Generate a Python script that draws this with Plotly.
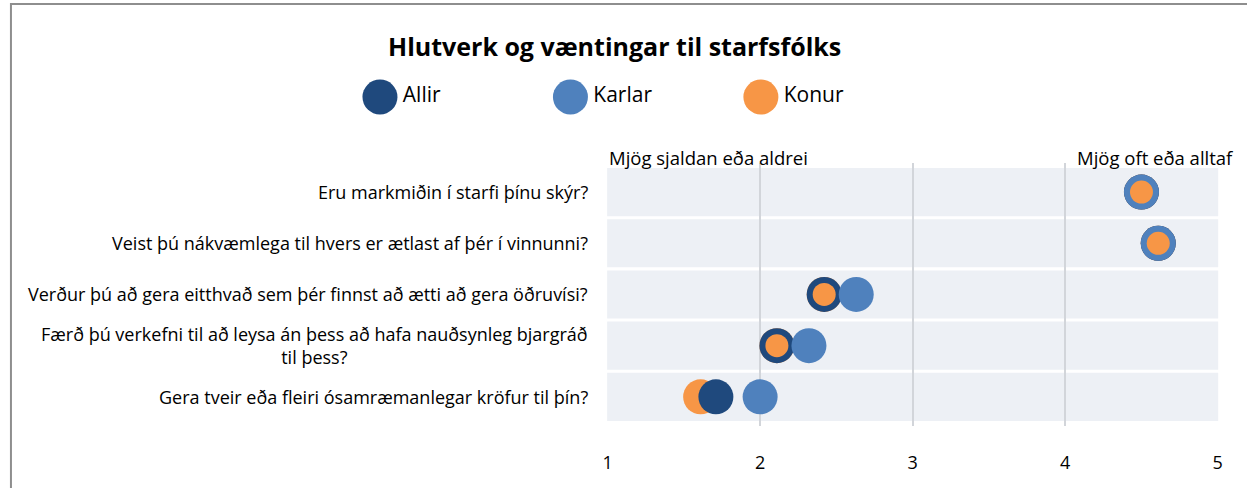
import plotly.graph_objects as go

W, H = 1247, 488

categories = [
    "Eru markmiðin í starfi þínu skýr?",
    "Veist þú nákvæmlega til hvers er ætlast af þér í vinnunni?",
    "Verður þú að gera eitthvað sem þér finnst að ætti að gera öðruvísi?",
    "Færð þú verkefni til að leysa án þess að hafa nauðsynleg bjargráð<br>til þess?",
    "Gera tveir eða fleiri ósamræmanlegar kröfur til þín?",
]
allir = [4.50, 4.61, 2.42, 2.11, 1.71]
karlar = [4.50, 4.61, 2.63, 2.32, 2.00]
konur = [4.50, 4.61, 2.42, 2.11, 1.61]

series_names = ["Allir", "Karlar", "Konur"]
tick_vals = [1, 2, 3, 4, 5]
tick_text = ["1", "2", "3", "4", "5"]
title_text = "Hlutverk og væntingar til starfsfólks"
low_label = "Mjög sjaldan eða aldrei"
high_label = "Mjög oft eða alltaf"

C_ALLIR = "#1F497D"
C_KARLAR = "#4F81BD"
C_KONUR = "#F79646"
colors = [C_ALLIR, C_KARLAR, C_KONUR]
FONT = "Open Sans"
MS = 35
MS_SMALL = 23

idx = list(range(len(categories)))

fig = go.Figure()

# Konur (full size, bottom layer)
fig.add_trace(go.Scatter(x=konur, y=idx, mode="markers",
                         marker=dict(size=MS, color=C_KONUR, line=dict(width=0)),
                         showlegend=False, hoverinfo="x"))
fig.add_trace(go.Scatter(x=allir, y=idx, mode="markers",
                         marker=dict(size=MS, color=C_ALLIR, line=dict(width=0)),
                         showlegend=False, hoverinfo="x"))
fig.add_trace(go.Scatter(x=karlar, y=idx, mode="markers",
                         marker=dict(size=MS, color=C_KARLAR, line=dict(width=0)),
                         showlegend=False, hoverinfo="x"))
# Konur overlay where it coincides with another series
ov_x, ov_y = [], []
for i, k in enumerate(konur):
    if abs(k - allir[i]) < 0.05 or abs(k - karlar[i]) < 0.05:
        ov_x.append(k)
        ov_y.append(i)
fig.add_trace(go.Scatter(x=ov_x, y=ov_y, mode="markers",
                         marker=dict(size=MS_SMALL, color=C_KONUR, line=dict(width=0)),
                         showlegend=False, hoverinfo="x"))

# custom legend on its own axes
fig.add_trace(go.Scatter(x=list(range(len(series_names))), y=[0] * len(series_names),
                         mode="markers+text", text=series_names,
                         textposition="middle right",
                         textfont=dict(family=FONT, size=21, color="#000000"),
                         marker=dict(size=MS, color=colors, line=dict(width=0)),
                         xaxis="x2", yaxis="y2", showlegend=False, hoverinfo="skip"))

# bands
half = 0.47
for i in idx:
    fig.add_shape(type="rect", xref="x domain", yref="y", x0=0, x1=1,
                  y0=i - half, y1=i + half, fillcolor="#EDF0F5",
                  line=dict(width=0), layer="below")

# category labels
for i, c in enumerate(categories):
    fig.add_annotation(xref="paper", yref="y", x=590 / W, y=i, text=c,
                       xanchor="right", yanchor="middle", align="center",
                       showarrow=False, font=dict(family=FONT, size=18, color="#000000"))

fig.add_annotation(xref="paper", yref="paper", x=607 / W, y=1 - 157 / H, text=low_label,
                   xanchor="left", yanchor="middle", showarrow=False,
                   font=dict(family=FONT, size=18.5, color="#000000"))
fig.add_annotation(xref="paper", yref="paper", x=1241 / W, y=1 - 157 / H, text=high_label,
                   xanchor="right", yanchor="middle", showarrow=False,
                   font=dict(family=FONT, size=18.5, color="#000000"))
fig.add_annotation(xref="paper", yref="paper", x=614 / W, y=1 - 46 / H, text="<b>" + title_text + "</b>",
                   xanchor="center", yanchor="middle", showarrow=False,
                   font=dict(family=FONT, size=25, color="#000000"))

# chart border (left + top)
fig.add_shape(type="rect", xref="paper", yref="paper", x0=6 / W, x1=1.05,
              y0=-0.1, y1=1 - 4 / H, line=dict(color="#8E8E8E", width=2),
              fillcolor="rgba(0,0,0,0)", layer="above")

fig.update_layout(
    width=W, height=H,
    margin=dict(l=0, r=0, t=0, b=0),
    paper_bgcolor="white", plot_bgcolor="white",
    showlegend=False,
    xaxis=dict(domain=[607 / W, 1223 / W], range=[0.997, 5.003],
               tickvals=tick_vals, ticktext=tick_text,
               showgrid=True, gridcolor="#D2D5DA", gridwidth=1.5,
               zeroline=False, showline=False,
               ticks="outside", ticklen=21, tickcolor="rgba(0,0,0,0)",
               tickfont=dict(family=FONT, size=18, color="#000000"),
               fixedrange=True),
    yaxis=dict(domain=[1 - 425.5 / H, 1 - 163.4 / H], range=[4.56, -0.56],
               showticklabels=False, showgrid=False, zeroline=False,
               fixedrange=True),
    xaxis2=dict(domain=[0, 1], range=[-378 / 192, (W - 378) / 192], visible=False,
                fixedrange=True),
    yaxis2=dict(domain=[1 - 97 / H - 0.1, 1 - 97 / H + 0.1], range=[-1, 1],
                visible=False, fixedrange=True),
)

fig.write_html("out.html", config={"displayModeBar": False},
               post_script="document.body.style.margin='0';document.body.style.overflow='hidden';")
